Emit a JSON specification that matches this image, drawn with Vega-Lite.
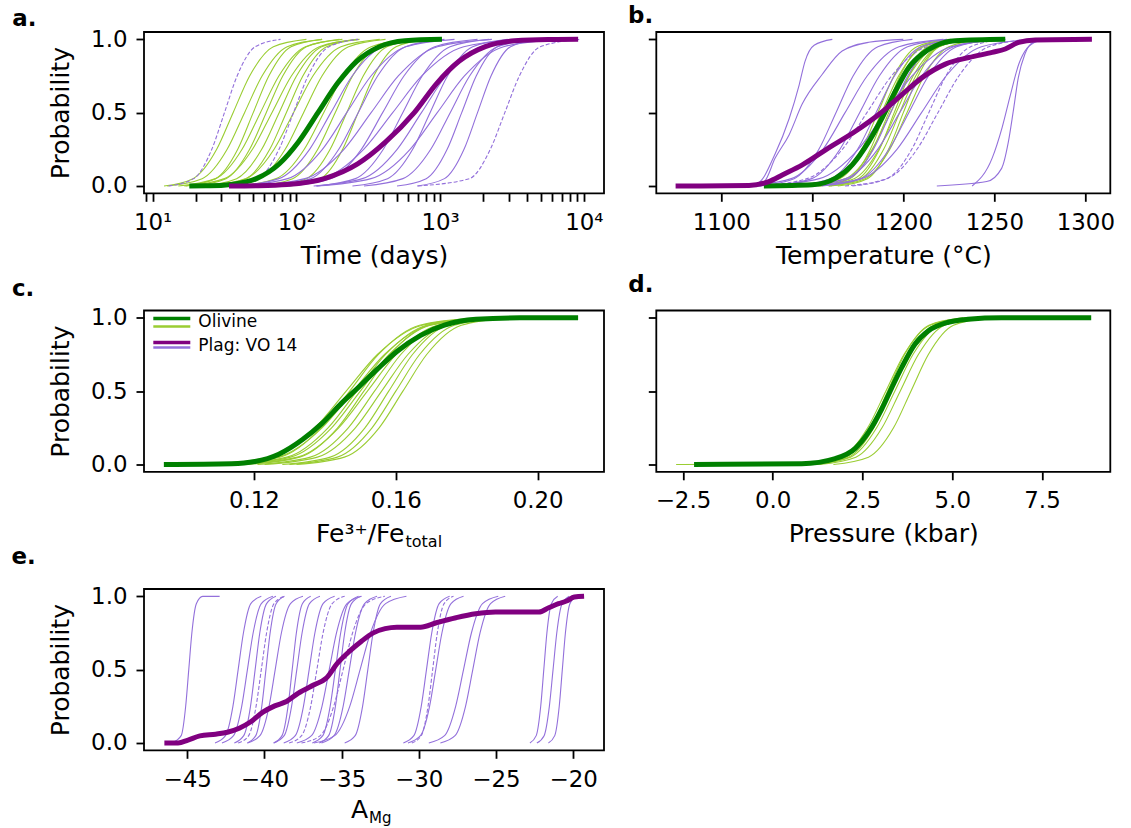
{
"$schema": "https://vega.github.io/schema/vega-lite/v6.json",
"background": "white",
"padding": {"left": 10, "top": 4, "right": 5, "bottom": 0},
"config": {
 "font": "DejaVu Sans",
 "view": {"stroke": "black", "strokeWidth": 1.8},
 "axis": {"domain": false, "grid": false, "tickColor": "black", "tickWidth": 1.8, "tickSize": 8, "labelColor": "black", "labelFontSize": 22.9, "labelPadding": 9, "titleColor": "black", "titleFontSize": 25, "titleFontWeight": "normal", "labelFlush": false, "labelOverlap": false},
 "axisX": {"labelPadding": 10},
 "title": {"fontSize": 22.9, "fontWeight": "bold", "anchor": "start", "frame": "group", "color": "black", "baseline": "alphabetic"}
},
"resolve": {"scale": {"color": "independent", "stroke": "independent"}, "legend": {"color": "independent", "stroke": "independent"}},
"datasets": {
"a_olt": [
{"curve":"g1","x":12,"p":0},{"curve":"g1","x":19.1,"p":0.05},{"curve":"g1","x":27.9,"p":0.25},{"curve":"g1","x":36.3,"p":0.5},{"curve":"g1","x":47.3,"p":0.75},{"curve":"g1","x":69.2,"p":0.95},{"curve":"g1","x":117.5,"p":1},
{"curve":"g2","x":12.6,"p":0},{"curve":"g2","x":22.1,"p":0.05},{"curve":"g2","x":33.0,"p":0.25},{"curve":"g2","x":43.6,"p":0.5},{"curve":"g2","x":57.7,"p":0.75},{"curve":"g2","x":86.3,"p":0.95},{"curve":"g2","x":151,"p":1},
{"curve":"g3","x":16.6,"p":0},{"curve":"g3","x":27.4,"p":0.05},{"curve":"g3","x":39.1,"p":0.25},{"curve":"g3","x":50.1,"p":0.5},{"curve":"g3","x":64.3,"p":0.75},{"curve":"g3","x":91.8,"p":0.95},{"curve":"g3","x":151,"p":1},
{"curve":"g4","x":15.1,"p":0},{"curve":"g4","x":27.4,"p":0.05},{"curve":"g4","x":41.9,"p":0.25},{"curve":"g4","x":56.2,"p":0.5},{"curve":"g4","x":75.5,"p":0.75},{"curve":"g4","x":115.6,"p":0.95},{"curve":"g4","x":208.9,"p":1},
{"curve":"g5","x":19.1,"p":0},{"curve":"g5","x":32.4,"p":0.05},{"curve":"g5","x":47.3,"p":0.25},{"curve":"g5","x":61.7,"p":0.5},{"curve":"g5","x":80.4,"p":0.75},{"curve":"g5","x":117.5,"p":0.95},{"curve":"g5","x":199.5,"p":1},
{"curve":"g6","x":17,"p":0},{"curve":"g6","x":31.6,"p":0.05},{"curve":"g6","x":49.5,"p":0.25},{"curve":"g6","x":67.6,"p":0.5},{"curve":"g6","x":92.3,"p":0.75},{"curve":"g6","x":144.5,"p":0.95},{"curve":"g6","x":269,"p":1},
{"curve":"g7","x":21.9,"p":0},{"curve":"g7","x":38.4,"p":0.05},{"curve":"g7","x":57.4,"p":0.25},{"curve":"g7","x":75.9,"p":0.5},{"curve":"g7","x":100.2,"p":0.75},{"curve":"g7","x":150,"p":0.95},{"curve":"g7","x":263,"p":1},
{"curve":"g8","x":26.3,"p":0},{"curve":"g8","x":44.7,"p":0.05},{"curve":"g8","x":65.3,"p":0.25},{"curve":"g8","x":85.1,"p":0.5},{"curve":"g8","x":110.9,"p":0.75},{"curve":"g8","x":162.2,"p":0.95},{"curve":"g8","x":275,"p":1},
{"curve":"g9","x":24,"p":0},{"curve":"g9","x":44.7,"p":0.05},{"curve":"g9","x":70,"p":0.25},{"curve":"g9","x":95.5,"p":0.5},{"curve":"g9","x":130.3,"p":0.75},{"curve":"g9","x":204,"p":0.95},{"curve":"g9","x":380,"p":1},
{"curve":"g10","x":30.2,"p":0},{"curve":"g10","x":54.6,"p":0.05},{"curve":"g10","x":83.6,"p":0.25},{"curve":"g10","x":112.2,"p":0.5},{"curve":"g10","x":150.7,"p":0.75},{"curve":"g10","x":230.7,"p":0.95},{"curve":"g10","x":417,"p":1},
{"curve":"g11","x":38.9,"p":0},{"curve":"g11","x":72.4,"p":0.05},{"curve":"g11","x":113.5,"p":0.25},{"curve":"g11","x":154.9,"p":0.5},{"curve":"g11","x":211.3,"p":0.75},{"curve":"g11","x":331,"p":0.95},{"curve":"g11","x":617,"p":1},
{"curve":"g12","x":53.7,"p":0},{"curve":"g12","x":94.2,"p":0.05},{"curve":"g12","x":140.9,"p":0.25},{"curve":"g12","x":186.2,"p":0.5},{"curve":"g12","x":246,"p":0.75},{"curve":"g12","x":368,"p":0.95},{"curve":"g12","x":646,"p":1},
{"curve":"g13","x":69.2,"p":0},{"curve":"g13","x":117.5,"p":0.05},{"curve":"g13","x":171.8,"p":0.25},{"curve":"g13","x":223.9,"p":0.5},{"curve":"g13","x":291.7,"p":0.75},{"curve":"g13","x":426.6,"p":0.95},{"curve":"g13","x":724,"p":1},
{"curve":"g14","x":89.1,"p":0},{"curve":"g14","x":146.9,"p":0.05},{"curve":"g14","x":209.9,"p":0.25},{"curve":"g14","x":269.2,"p":0.5},{"curve":"g14","x":345.1,"p":0.75},{"curve":"g14","x":493.3,"p":0.95},{"curve":"g14","x":812.8,"p":1}
],
"a_pls": [
{"curve":"v3","x":38,"p":0},{"curve":"v3","x":75.5,"p":0.05},{"curve":"v3","x":123.6,"p":0.25},{"curve":"v3","x":173.8,"p":0.5},{"curve":"v3","x":244.3,"p":0.75},{"curve":"v3","x":399.9,"p":0.95},{"curve":"v3","x":794.3,"p":1},
{"curve":"v4","x":39.8,"p":0},{"curve":"v4","x":86.9,"p":0.05},{"curve":"v4","x":151.7,"p":0.25},{"curve":"v4","x":223.9,"p":0.5},{"curve":"v4","x":330.4,"p":0.75},{"curve":"v4","x":576.8,"p":0.95},{"curve":"v4","x":1259,"p":1},
{"curve":"v5","x":67.6,"p":0},{"curve":"v5","x":126.2,"p":0.05},{"curve":"v5","x":197.2,"p":0.25},{"curve":"v5","x":269.2,"p":0.5},{"curve":"v5","x":367.3,"p":0.75},{"curve":"v5","x":574.1,"p":0.95},{"curve":"v5","x":1072,"p":1},
{"curve":"v6","x":47.9,"p":0},{"curve":"v6","x":114.6,"p":0.05},{"curve":"v6","x":214.3,"p":0.25},{"curve":"v6","x":331.1,"p":0.5},{"curve":"v6","x":511.7,"p":0.75},{"curve":"v6","x":957.2,"p":0.95},{"curve":"v6","x":2291,"p":1},
{"curve":"v7","x":87.1,"p":0},{"curve":"v7","x":173,"p":0.05},{"curve":"v7","x":283.1,"p":0.25},{"curve":"v7","x":398.1,"p":0.5},{"curve":"v7","x":559.8,"p":0.75},{"curve":"v7","x":916.2,"p":0.95},{"curve":"v7","x":1820,"p":1},
{"curve":"v8","x":58.9,"p":0},{"curve":"v8","x":150,"p":0.05},{"curve":"v8","x":293.8,"p":0.25},{"curve":"v8","x":467.7,"p":0.5},{"curve":"v8","x":744.7,"p":0.75},{"curve":"v8","x":1459,"p":0.95},{"curve":"v8","x":3715,"p":1},
{"curve":"v9","x":138,"p":0},{"curve":"v9","x":257.6,"p":0.05},{"curve":"v9","x":402.7,"p":0.25},{"curve":"v9","x":549.5,"p":0.5},{"curve":"v9","x":749.9,"p":0.75},{"curve":"v9","x":1172,"p":0.95},{"curve":"v9","x":2188,"p":1},
{"curve":"v10","x":131.8,"p":0},{"curve":"v10","x":287.7,"p":0.05},{"curve":"v10","x":502.3,"p":0.25},{"curve":"v10","x":741.3,"p":0.5},{"curve":"v10","x":1094,"p":0.75},{"curve":"v10","x":1910,"p":0.95},{"curve":"v10","x":4169,"p":1},
{"curve":"v11","x":245.5,"p":0},{"curve":"v11","x":430.5,"p":0.05},{"curve":"v11","x":644.2,"p":0.25},{"curve":"v11","x":851.1,"p":0.5},{"curve":"v11","x":1125,"p":0.75},{"curve":"v11","x":1683,"p":0.95},{"curve":"v11","x":2951,"p":1},
{"curve":"v12","x":138,"p":0},{"curve":"v12","x":330.4,"p":0.05},{"curve":"v12","x":618,"p":0.25},{"curve":"v12","x":955,"p":0.5},{"curve":"v12","x":1476,"p":0.75},{"curve":"v12","x":2761,"p":0.95},{"curve":"v12","x":6607,"p":1},
{"curve":"v13","x":295.1,"p":0},{"curve":"v13","x":550.8,"p":0.05},{"curve":"v13","x":861,"p":0.25},{"curve":"v13","x":1175,"p":0.5},{"curve":"v13","x":1603,"p":0.75},{"curve":"v13","x":2506,"p":0.95},{"curve":"v13","x":4677,"p":1},
{"curve":"v14","x":501.2,"p":0},{"curve":"v14","x":800,"p":0.05},{"curve":"v14","x":1119,"p":0.25},{"curve":"v14","x":1413,"p":0.5},{"curve":"v14","x":1782,"p":0.75},{"curve":"v14","x":2495,"p":0.95},{"curve":"v14","x":3981,"p":1},
{"curve":"v15","x":691.8,"p":0},{"curve":"v15","x":1072,"p":0.05},{"curve":"v15","x":1466,"p":0.25},{"curve":"v15","x":1820,"p":0.5},{"curve":"v15","x":2259,"p":0.75},{"curve":"v15","x":3090,"p":0.95},{"curve":"v15","x":4786,"p":1}
],
"a_pld": [
{"curve":"d1","x":12.9,"p":0},{"curve":"d1","x":19.3,"p":0.05},{"curve":"d1","x":25.8,"p":0.25},{"curve":"d1","x":31.6,"p":0.5},{"curve":"d1","x":38.7,"p":0.75},{"curve":"d1","x":51.8,"p":0.95},{"curve":"d1","x":77.6,"p":1},
{"curve":"d2","x":33.9,"p":0},{"curve":"d2","x":54.1,"p":0.05},{"curve":"d2","x":75.7,"p":0.25},{"curve":"d2","x":95.5,"p":0.5},{"curve":"d2","x":120.5,"p":0.75},{"curve":"d2","x":168.7,"p":0.95},{"curve":"d2","x":269.2,"p":1},
{"curve":"d16","x":700,"p":0},{"curve":"d16","x":1596,"p":0.05},{"curve":"d16","x":2234,"p":0.25},{"curve":"d16","x":2818,"p":0.5},{"curve":"d16","x":3556,"p":0.75},{"curve":"d16","x":4977,"p":0.95},{"curve":"d16","x":9500,"p":1}
],
"a_ol": [
{"curve":"G","x":18,"p":0},{"curve":"G","x":25,"p":0.001},{"curve":"G","x":35,"p":0.01},{"curve":"G","x":52.7,"p":0.05},{"curve":"G","x":75.9,"p":0.15},{"curve":"G","x":103.3,"p":0.3},{"curve":"G","x":141.3,"p":0.5},{"curve":"G","x":193.2,"p":0.7},{"curve":"G","x":262.4,"p":0.85},{"curve":"G","x":378.4,"p":0.95},{"curve":"G","x":570,"p":0.99},{"curve":"G","x":1030,"p":1}
],
"a_pl": [
{"curve":"P","x":34,"p":0},{"curve":"P","x":53.2,"p":0.002},{"curve":"P","x":86.3,"p":0.01},{"curve":"P","x":156.7,"p":0.05},{"curve":"P","x":266.7,"p":0.15},{"curve":"P","x":417.8,"p":0.3},{"curve":"P","x":660.7,"p":0.5},{"curve":"P","x":948.4,"p":0.7},{"curve":"P","x":1352,"p":0.85},{"curve":"P","x":2061,"p":0.95},{"curve":"P","x":3296,"p":0.99},{"curve":"P","x":5623,"p":0.999},{"curve":"P","x":9120,"p":1}
],
"b_olt": [
{"curve":"g1","x":1147,"p":0},{"curve":"g1","x":1164.6,"p":0.05},{"curve":"g1","x":1177.2,"p":0.25},{"curve":"g1","x":1186,"p":0.5},{"curve":"g1","x":1194.8,"p":0.75},{"curve":"g1","x":1207.4,"p":0.95},{"curve":"g1","x":1225,"p":1},
{"curve":"g2","x":1146,"p":0},{"curve":"g2","x":1165,"p":0.05},{"curve":"g2","x":1178.6,"p":0.25},{"curve":"g2","x":1188,"p":0.5},{"curve":"g2","x":1197.4,"p":0.75},{"curve":"g2","x":1211,"p":0.95},{"curve":"g2","x":1230,"p":1},
{"curve":"g3","x":1154,"p":0},{"curve":"g3","x":1170.3,"p":0.05},{"curve":"g3","x":1181.9,"p":0.25},{"curve":"g3","x":1190,"p":0.5},{"curve":"g3","x":1198.1,"p":0.75},{"curve":"g3","x":1209.7,"p":0.95},{"curve":"g3","x":1226,"p":1},
{"curve":"g4","x":1153,"p":0},{"curve":"g4","x":1170.6,"p":0.05},{"curve":"g4","x":1183.2,"p":0.25},{"curve":"g4","x":1192,"p":0.5},{"curve":"g4","x":1200.8,"p":0.75},{"curve":"g4","x":1213.4,"p":0.95},{"curve":"g4","x":1231,"p":1},
{"curve":"g5","x":1148,"p":0},{"curve":"g5","x":1168.3,"p":0.05},{"curve":"g5","x":1182.9,"p":0.25},{"curve":"g5","x":1193,"p":0.5},{"curve":"g5","x":1203.1,"p":0.75},{"curve":"g5","x":1217.7,"p":0.95},{"curve":"g5","x":1238,"p":1},
{"curve":"g6","x":1159,"p":0},{"curve":"g6","x":1175.3,"p":0.05},{"curve":"g6","x":1186.9,"p":0.25},{"curve":"g6","x":1195,"p":0.5},{"curve":"g6","x":1203.1,"p":0.75},{"curve":"g6","x":1214.7,"p":0.95},{"curve":"g6","x":1231,"p":1},
{"curve":"g7","x":1154,"p":0},{"curve":"g7","x":1173,"p":0.05},{"curve":"g7","x":1186.6,"p":0.25},{"curve":"g7","x":1196,"p":0.5},{"curve":"g7","x":1205.4,"p":0.75},{"curve":"g7","x":1219,"p":0.95},{"curve":"g7","x":1238,"p":1},
{"curve":"g8","x":1159,"p":0},{"curve":"g8","x":1176.6,"p":0.05},{"curve":"g8","x":1189.2,"p":0.25},{"curve":"g8","x":1198,"p":0.5},{"curve":"g8","x":1206.8,"p":0.75},{"curve":"g8","x":1219.4,"p":0.95},{"curve":"g8","x":1237,"p":1},
{"curve":"g9","x":1164,"p":0},{"curve":"g9","x":1180.3,"p":0.05},{"curve":"g9","x":1191.9,"p":0.25},{"curve":"g9","x":1200,"p":0.5},{"curve":"g9","x":1208.1,"p":0.75},{"curve":"g9","x":1219.7,"p":0.95},{"curve":"g9","x":1236,"p":1},
{"curve":"g10","x":1160,"p":0},{"curve":"g10","x":1179,"p":0.05},{"curve":"g10","x":1192.6,"p":0.25},{"curve":"g10","x":1202,"p":0.5},{"curve":"g10","x":1211.4,"p":0.75},{"curve":"g10","x":1225,"p":0.95},{"curve":"g10","x":1244,"p":1}
],
"b_pls": [
{"curve":"v1","x":1108,"p":0},{"curve":"v1","x":1120,"p":0.02},{"curve":"v1","x":1129.6,"p":0.22},{"curve":"v1","x":1137.3,"p":0.46},{"curve":"v1","x":1142.8,"p":0.69},{"curve":"v1","x":1146,"p":0.85},{"curve":"v1","x":1151,"p":0.96},{"curve":"v1","x":1161,"p":1},
{"curve":"v2","x":1116,"p":0},{"curve":"v2","x":1123.6,"p":0.03},{"curve":"v2","x":1129.6,"p":0.19},{"curve":"v2","x":1137.3,"p":0.35},{"curve":"v2","x":1144.5,"p":0.56},{"curve":"v2","x":1155.4,"p":0.76},{"curve":"v2","x":1166.4,"p":0.92},{"curve":"v2","x":1181,"p":0.98},{"curve":"v2","x":1200,"p":1},
{"curve":"v3","x":1121,"p":0},{"curve":"v3","x":1140,"p":0.05},{"curve":"v3","x":1153.6,"p":0.25},{"curve":"v3","x":1163,"p":0.5},{"curve":"v3","x":1172.4,"p":0.75},{"curve":"v3","x":1186,"p":0.95},{"curve":"v3","x":1205,"p":1},
{"curve":"v4","x":1114,"p":0},{"curve":"v4","x":1138.4,"p":0.05},{"curve":"v4","x":1155.9,"p":0.25},{"curve":"v4","x":1168,"p":0.5},{"curve":"v4","x":1180.1,"p":0.75},{"curve":"v4","x":1197.6,"p":0.95},{"curve":"v4","x":1222,"p":1},
{"curve":"v5","x":1128,"p":0},{"curve":"v5","x":1149.7,"p":0.05},{"curve":"v5","x":1165.2,"p":0.25},{"curve":"v5","x":1176,"p":0.5},{"curve":"v5","x":1186.8,"p":0.75},{"curve":"v5","x":1202.3,"p":0.95},{"curve":"v5","x":1224,"p":1},
{"curve":"v7","x":1140,"p":0},{"curve":"v7","x":1160.3,"p":0.05},{"curve":"v7","x":1174.9,"p":0.25},{"curve":"v7","x":1185,"p":0.5},{"curve":"v7","x":1195.1,"p":0.75},{"curve":"v7","x":1209.7,"p":0.95},{"curve":"v7","x":1230,"p":1},
{"curve":"v8","x":1124,"p":0},{"curve":"v8","x":1153.8,"p":0.05},{"curve":"v8","x":1175.2,"p":0.25},{"curve":"v8","x":1190,"p":0.5},{"curve":"v8","x":1204.8,"p":0.75},{"curve":"v8","x":1226.2,"p":0.95},{"curve":"v8","x":1256,"p":1},
{"curve":"v9","x":1151,"p":0},{"curve":"v9","x":1170,"p":0.05},{"curve":"v9","x":1183.6,"p":0.25},{"curve":"v9","x":1193,"p":0.5},{"curve":"v9","x":1202.4,"p":0.75},{"curve":"v9","x":1216,"p":0.95},{"curve":"v9","x":1235,"p":1},
{"curve":"v10","x":1144,"p":0},{"curve":"v10","x":1168.4,"p":0.05},{"curve":"v10","x":1185.9,"p":0.25},{"curve":"v10","x":1198,"p":0.5},{"curve":"v10","x":1210.1,"p":0.75},{"curve":"v10","x":1227.6,"p":0.95},{"curve":"v10","x":1252,"p":1},
{"curve":"v11","x":1155,"p":0},{"curve":"v11","x":1176.7,"p":0.05},{"curve":"v11","x":1192.2,"p":0.25},{"curve":"v11","x":1203,"p":0.5},{"curve":"v11","x":1213.8,"p":0.75},{"curve":"v11","x":1229.3,"p":0.95},{"curve":"v11","x":1251,"p":1},
{"curve":"v12","x":1150,"p":0},{"curve":"v12","x":1177.1,"p":0.05},{"curve":"v12","x":1196.5,"p":0.25},{"curve":"v12","x":1210,"p":0.5},{"curve":"v12","x":1223.5,"p":0.75},{"curve":"v12","x":1242.9,"p":0.95},{"curve":"v12","x":1270,"p":1},
{"curve":"v15","x":1218.4,"p":0},{"curve":"v15","x":1245.8,"p":0.03},{"curve":"v15","x":1254,"p":0.12},{"curve":"v15","x":1257.7,"p":0.3},{"curve":"v15","x":1260.4,"p":0.51},{"curve":"v15","x":1263.2,"p":0.74},{"curve":"v15","x":1266.8,"p":0.9},{"curve":"v15","x":1271.4,"p":0.98},{"curve":"v15","x":1278.7,"p":1},
{"curve":"v16","x":1237.8,"p":0},{"curve":"v16","x":1248.8,"p":0.19},{"curve":"v16","x":1254.3,"p":0.4},{"curve":"v16","x":1258.8,"p":0.62},{"curve":"v16","x":1263.4,"p":0.83},{"curve":"v16","x":1268,"p":0.94},{"curve":"v16","x":1274.4,"p":0.99},{"curve":"v16","x":1278,"p":1}
],
"b_pld": [
{"curve":"d6","x":1120,"p":0},{"curve":"d6","x":1147.1,"p":0.05},{"curve":"d6","x":1166.5,"p":0.25},{"curve":"d6","x":1180,"p":0.5},{"curve":"d6","x":1193.5,"p":0.75},{"curve":"d6","x":1212.9,"p":0.95},{"curve":"d6","x":1240,"p":1},
{"curve":"d13","x":1172,"p":0},{"curve":"d13","x":1191,"p":0.05},{"curve":"d13","x":1204.6,"p":0.25},{"curve":"d13","x":1214,"p":0.5},{"curve":"d13","x":1223.4,"p":0.75},{"curve":"d13","x":1237,"p":0.95},{"curve":"d13","x":1256,"p":1},
{"curve":"d14","x":1168,"p":0},{"curve":"d14","x":1191,"p":0.05},{"curve":"d14","x":1207.5,"p":0.25},{"curve":"d14","x":1219,"p":0.5},{"curve":"d14","x":1230.5,"p":0.75},{"curve":"d14","x":1247,"p":0.95},{"curve":"d14","x":1270,"p":1}
],
"b_ol": [
{"curve":"G","x":1123.4,"p":0},{"curve":"G","x":1150,"p":0.008},{"curve":"G","x":1162.8,"p":0.053},{"curve":"G","x":1171.9,"p":0.144},{"curve":"G","x":1181.1,"p":0.304},{"curve":"G","x":1188.4,"p":0.465},{"curve":"G","x":1195.7,"p":0.648},{"curve":"G","x":1203,"p":0.808},{"curve":"G","x":1210.3,"p":0.9},{"curve":"G","x":1217.7,"p":0.957},{"curve":"G","x":1228.6,"p":0.991},{"curve":"G","x":1256,"p":1}
],
"b_pl": [
{"curve":"P","x":1074.9,"p":0},{"curve":"P","x":1115.2,"p":0.003},{"curve":"P","x":1126.2,"p":0.03},{"curve":"P","x":1133.5,"p":0.075},{"curve":"P","x":1144.5,"p":0.144},{"curve":"P","x":1159,"p":0.26},{"curve":"P","x":1173.7,"p":0.373},{"curve":"P","x":1186.5,"p":0.487},{"curve":"P","x":1199.4,"p":0.625},{"curve":"P","x":1210.3,"p":0.739},{"curve":"P","x":1223.1,"p":0.831},{"curve":"P","x":1236,"p":0.876},{"curve":"P","x":1248.8,"p":0.911},{"curve":"P","x":1256,"p":0.934},{"curve":"P","x":1263.4,"p":0.979},{"curve":"P","x":1272.5,"p":0.995},{"curve":"P","x":1303.6,"p":1}
],
"c_olt": [
{"curve":"g1","x":0.107,"p":0},{"curve":"g1","x":0.1246,"p":0.05},{"curve":"g1","x":0.1372,"p":0.25},{"curve":"g1","x":0.146,"p":0.5},{"curve":"g1","x":0.1548,"p":0.75},{"curve":"g1","x":0.1674,"p":0.95},{"curve":"g1","x":0.185,"p":1},
{"curve":"g2","x":0.111,"p":0},{"curve":"g2","x":0.1273,"p":0.05},{"curve":"g2","x":0.1389,"p":0.25},{"curve":"g2","x":0.147,"p":0.5},{"curve":"g2","x":0.1551,"p":0.75},{"curve":"g2","x":0.1667,"p":0.95},{"curve":"g2","x":0.183,"p":1},
{"curve":"g3","x":0.109,"p":0},{"curve":"g3","x":0.1266,"p":0.05},{"curve":"g3","x":0.1392,"p":0.25},{"curve":"g3","x":0.148,"p":0.5},{"curve":"g3","x":0.1568,"p":0.75},{"curve":"g3","x":0.1694,"p":0.95},{"curve":"g3","x":0.187,"p":1},
{"curve":"g4","x":0.113,"p":0},{"curve":"g4","x":0.1293,"p":0.05},{"curve":"g4","x":0.1409,"p":0.25},{"curve":"g4","x":0.149,"p":0.5},{"curve":"g4","x":0.1571,"p":0.75},{"curve":"g4","x":0.1687,"p":0.95},{"curve":"g4","x":0.185,"p":1},
{"curve":"g5","x":0.114,"p":0},{"curve":"g5","x":0.1303,"p":0.05},{"curve":"g5","x":0.1419,"p":0.25},{"curve":"g5","x":0.15,"p":0.5},{"curve":"g5","x":0.1581,"p":0.75},{"curve":"g5","x":0.1697,"p":0.95},{"curve":"g5","x":0.186,"p":1},
{"curve":"g6","x":0.118,"p":0},{"curve":"g6","x":0.1329,"p":0.05},{"curve":"g6","x":0.1436,"p":0.25},{"curve":"g6","x":0.151,"p":0.5},{"curve":"g6","x":0.1584,"p":0.75},{"curve":"g6","x":0.1691,"p":0.95},{"curve":"g6","x":0.184,"p":1},
{"curve":"g7","x":0.116,"p":0},{"curve":"g7","x":0.1323,"p":0.05},{"curve":"g7","x":0.1439,"p":0.25},{"curve":"g7","x":0.152,"p":0.5},{"curve":"g7","x":0.1601,"p":0.75},{"curve":"g7","x":0.1717,"p":0.95},{"curve":"g7","x":0.188,"p":1},
{"curve":"g8","x":0.121,"p":0},{"curve":"g8","x":0.1359,"p":0.05},{"curve":"g8","x":0.1466,"p":0.25},{"curve":"g8","x":0.154,"p":0.5},{"curve":"g8","x":0.1614,"p":0.75},{"curve":"g8","x":0.1721,"p":0.95},{"curve":"g8","x":0.187,"p":1},
{"curve":"g9","x":0.123,"p":0},{"curve":"g9","x":0.1379,"p":0.05},{"curve":"g9","x":0.1486,"p":0.25},{"curve":"g9","x":0.156,"p":0.5},{"curve":"g9","x":0.1634,"p":0.75},{"curve":"g9","x":0.1741,"p":0.95},{"curve":"g9","x":0.189,"p":1},
{"curve":"g10","x":0.128,"p":0},{"curve":"g10","x":0.1415,"p":0.05},{"curve":"g10","x":0.1513,"p":0.25},{"curve":"g10","x":0.158,"p":0.5},{"curve":"g10","x":0.1647,"p":0.75},{"curve":"g10","x":0.1745,"p":0.95},{"curve":"g10","x":0.188,"p":1},
{"curve":"g11","x":0.13,"p":0},{"curve":"g11","x":0.1435,"p":0.05},{"curve":"g11","x":0.1533,"p":0.25},{"curve":"g11","x":0.16,"p":0.5},{"curve":"g11","x":0.1667,"p":0.75},{"curve":"g11","x":0.1765,"p":0.95},{"curve":"g11","x":0.19,"p":1},
{"curve":"g12","x":0.132,"p":0},{"curve":"g12","x":0.1455,"p":0.05},{"curve":"g12","x":0.1553,"p":0.25},{"curve":"g12","x":0.162,"p":0.5},{"curve":"g12","x":0.1687,"p":0.75},{"curve":"g12","x":0.1785,"p":0.95},{"curve":"g12","x":0.192,"p":1}
],
"c_ol": [
{"curve":"G","x":0.0946,"p":0},{"curve":"G","x":0.1137,"p":0.005},{"curve":"G","x":0.1203,"p":0.02},{"curve":"G","x":0.127,"p":0.07},{"curve":"G","x":0.1337,"p":0.17},{"curve":"G","x":0.1392,"p":0.28},{"curve":"G","x":0.1448,"p":0.42},{"curve":"G","x":0.1492,"p":0.52},{"curve":"G","x":0.1548,"p":0.65},{"curve":"G","x":0.1603,"p":0.77},{"curve":"G","x":0.167,"p":0.88},{"curve":"G","x":0.1737,"p":0.95},{"curve":"G","x":0.1826,"p":0.99},{"curve":"G","x":0.195,"p":1},{"curve":"G","x":0.2114,"p":1}
],
"d_olt": [
{"curve":"g1","x":-2.69,"p":0},{"curve":"g1","x":0.9,"p":0.002},{"curve":"g1","x":1.916,"p":0.05},{"curve":"g1","x":2.644,"p":0.25},{"curve":"g1","x":3.15,"p":0.5},{"curve":"g1","x":3.656,"p":0.75},{"curve":"g1","x":4.384,"p":0.95},{"curve":"g1","x":5.4,"p":1},
{"curve":"g2","x":1.1,"p":0},{"curve":"g2","x":2.048,"p":0.05},{"curve":"g2","x":2.728,"p":0.25},{"curve":"g2","x":3.2,"p":0.5},{"curve":"g2","x":3.672,"p":0.75},{"curve":"g2","x":4.352,"p":0.95},{"curve":"g2","x":5.3,"p":1},
{"curve":"g3","x":0.85,"p":0},{"curve":"g3","x":1.934,"p":0.05},{"curve":"g3","x":2.711,"p":0.25},{"curve":"g3","x":3.25,"p":0.5},{"curve":"g3","x":3.789,"p":0.75},{"curve":"g3","x":4.566,"p":0.95},{"curve":"g3","x":5.65,"p":1},
{"curve":"g4","x":1.14,"p":0},{"curve":"g4","x":2.116,"p":0.05},{"curve":"g4","x":2.815,"p":0.25},{"curve":"g4","x":3.3,"p":0.5},{"curve":"g4","x":3.785,"p":0.75},{"curve":"g4","x":4.484,"p":0.95},{"curve":"g4","x":5.46,"p":1},
{"curve":"g5","x":1.15,"p":0},{"curve":"g5","x":2.166,"p":0.05},{"curve":"g5","x":2.894,"p":0.25},{"curve":"g5","x":3.4,"p":0.5},{"curve":"g5","x":3.906,"p":0.75},{"curve":"g5","x":4.634,"p":0.95},{"curve":"g5","x":5.65,"p":1},
{"curve":"g6","x":1.3,"p":0},{"curve":"g6","x":2.316,"p":0.05},{"curve":"g6","x":3.044,"p":0.25},{"curve":"g6","x":3.55,"p":0.5},{"curve":"g6","x":4.056,"p":0.75},{"curve":"g6","x":4.784,"p":0.95},{"curve":"g6","x":5.8,"p":1},
{"curve":"g7","x":1.69,"p":0},{"curve":"g7","x":2.666,"p":0.05},{"curve":"g7","x":3.365,"p":0.25},{"curve":"g7","x":3.85,"p":0.5},{"curve":"g7","x":4.335,"p":0.75},{"curve":"g7","x":5.034,"p":0.95},{"curve":"g7","x":6.01,"p":1}
],
"d_ol": [
{"curve":"G","x":-2.19,"p":0},{"curve":"G","x":0.81,"p":0.005},{"curve":"G","x":1.74,"p":0.04},{"curve":"G","x":2.3,"p":0.11},{"curve":"G","x":2.67,"p":0.22},{"curve":"G","x":3.04,"p":0.38},{"curve":"G","x":3.31,"p":0.52},{"curve":"G","x":3.59,"p":0.66},{"curve":"G","x":3.96,"p":0.82},{"curve":"G","x":4.33,"p":0.91},{"curve":"G","x":4.89,"p":0.97},{"curve":"G","x":5.44,"p":0.99},{"curve":"G","x":6.37,"p":1},{"curve":"G","x":8.87,"p":1}
],
"e_pls": [
{"curve":"v1","x":-46.0,"p":0},{"curve":"v1","x":-45.39,"p":0.05},{"curve":"v1","x":-45.1,"p":0.25},{"curve":"v1","x":-44.9,"p":0.5},{"curve":"v1","x":-44.7,"p":0.75},{"curve":"v1","x":-44.41,"p":0.95},{"curve":"v1","x":-44.0,"p":1},{"curve":"v1","x":-42.9,"p":1},
{"curve":"v2","x":-43.2,"p":0},{"curve":"v2","x":-42.52,"p":0.05},{"curve":"v2","x":-42.04,"p":0.25},{"curve":"v2","x":-41.7,"p":0.5},{"curve":"v2","x":-41.36,"p":0.75},{"curve":"v2","x":-40.88,"p":0.95},{"curve":"v2","x":-40.2,"p":1},
{"curve":"v3","x":-42.75,"p":0},{"curve":"v3","x":-42.0,"p":0.05},{"curve":"v3","x":-41.47,"p":0.25},{"curve":"v3","x":-41.1,"p":0.5},{"curve":"v3","x":-40.73,"p":0.75},{"curve":"v3","x":-40.2,"p":0.95},{"curve":"v3","x":-39.45,"p":1},
{"curve":"v4","x":-41.95,"p":0},{"curve":"v4","x":-41.34,"p":0.05},{"curve":"v4","x":-40.9,"p":0.25},{"curve":"v4","x":-40.6,"p":0.5},{"curve":"v4","x":-40.3,"p":0.75},{"curve":"v4","x":-39.86,"p":0.95},{"curve":"v4","x":-39.25,"p":1},
{"curve":"v6","x":-41.1,"p":0},{"curve":"v6","x":-40.56,"p":0.05},{"curve":"v6","x":-40.17,"p":0.25},{"curve":"v6","x":-39.9,"p":0.5},{"curve":"v6","x":-39.63,"p":0.75},{"curve":"v6","x":-39.24,"p":0.95},{"curve":"v6","x":-38.7,"p":1},
{"curve":"v7","x":-41.1,"p":0},{"curve":"v7","x":-40.29,"p":0.05},{"curve":"v7","x":-39.7,"p":0.25},{"curve":"v7","x":-39.3,"p":0.5},{"curve":"v7","x":-38.9,"p":0.75},{"curve":"v7","x":-38.31,"p":0.95},{"curve":"v7","x":-37.5,"p":1},
{"curve":"v8","x":-39.4,"p":0},{"curve":"v8","x":-38.86,"p":0.05},{"curve":"v8","x":-38.47,"p":0.25},{"curve":"v8","x":-38.2,"p":0.5},{"curve":"v8","x":-37.93,"p":0.75},{"curve":"v8","x":-37.54,"p":0.95},{"curve":"v8","x":-37.0,"p":1},
{"curve":"v9","x":-39.4,"p":0},{"curve":"v9","x":-38.72,"p":0.05},{"curve":"v9","x":-38.24,"p":0.25},{"curve":"v9","x":-37.9,"p":0.5},{"curve":"v9","x":-37.56,"p":0.75},{"curve":"v9","x":-37.08,"p":0.95},{"curve":"v9","x":-36.4,"p":1},
{"curve":"v10","x":-38.75,"p":0},{"curve":"v10","x":-38.0,"p":0.05},{"curve":"v10","x":-37.47,"p":0.25},{"curve":"v10","x":-37.1,"p":0.5},{"curve":"v10","x":-36.73,"p":0.75},{"curve":"v10","x":-36.2,"p":0.95},{"curve":"v10","x":-35.45,"p":1},
{"curve":"v12","x":-37.9,"p":0},{"curve":"v12","x":-36.95,"p":0.05},{"curve":"v12","x":-36.27,"p":0.25},{"curve":"v12","x":-35.8,"p":0.5},{"curve":"v12","x":-35.33,"p":0.75},{"curve":"v12","x":-34.65,"p":0.95},{"curve":"v12","x":-33.7,"p":1},
{"curve":"v13","x":-36.9,"p":0},{"curve":"v13","x":-36.22,"p":0.05},{"curve":"v13","x":-35.74,"p":0.25},{"curve":"v13","x":-35.4,"p":0.5},{"curve":"v13","x":-35.06,"p":0.75},{"curve":"v13","x":-34.58,"p":0.95},{"curve":"v13","x":-33.9,"p":1},
{"curve":"v14","x":-36.45,"p":0},{"curve":"v14","x":-35.84,"p":0.05},{"curve":"v14","x":-35.4,"p":0.25},{"curve":"v14","x":-35.1,"p":0.5},{"curve":"v14","x":-34.8,"p":0.75},{"curve":"v14","x":-34.36,"p":0.95},{"curve":"v14","x":-33.75,"p":1},
{"curve":"v16","x":-36.3,"p":0},{"curve":"v16","x":-35.49,"p":0.05},{"curve":"v16","x":-34.9,"p":0.25},{"curve":"v16","x":-34.5,"p":0.5},{"curve":"v16","x":-34.1,"p":0.75},{"curve":"v16","x":-33.51,"p":0.95},{"curve":"v16","x":-32.7,"p":1},
{"curve":"v17","x":-36.8,"p":0},{"curve":"v17","x":-35.45,"p":0.05},{"curve":"v17","x":-34.47,"p":0.25},{"curve":"v17","x":-33.8,"p":0.5},{"curve":"v17","x":-33.13,"p":0.75},{"curve":"v17","x":-32.15,"p":0.95},{"curve":"v17","x":-30.8,"p":1},
{"curve":"v18","x":-34.8,"p":0},{"curve":"v18","x":-34.12,"p":0.05},{"curve":"v18","x":-33.64,"p":0.25},{"curve":"v18","x":-33.3,"p":0.5},{"curve":"v18","x":-32.96,"p":0.75},{"curve":"v18","x":-32.48,"p":0.95},{"curve":"v18","x":-31.8,"p":1},
{"curve":"v19","x":-31.0,"p":0},{"curve":"v19","x":-30.32,"p":0.05},{"curve":"v19","x":-29.84,"p":0.25},{"curve":"v19","x":-29.5,"p":0.5},{"curve":"v19","x":-29.16,"p":0.75},{"curve":"v19","x":-28.68,"p":0.95},{"curve":"v19","x":-28.0,"p":1},
{"curve":"v21","x":-30.7,"p":0},{"curve":"v21","x":-29.89,"p":0.05},{"curve":"v21","x":-29.3,"p":0.25},{"curve":"v21","x":-28.9,"p":0.5},{"curve":"v21","x":-28.5,"p":0.75},{"curve":"v21","x":-27.91,"p":0.95},{"curve":"v21","x":-27.1,"p":1},
{"curve":"v22","x":-29.35,"p":0},{"curve":"v22","x":-28.33,"p":0.05},{"curve":"v22","x":-27.61,"p":0.25},{"curve":"v22","x":-27.1,"p":0.5},{"curve":"v22","x":-26.59,"p":0.75},{"curve":"v22","x":-25.87,"p":0.95},{"curve":"v22","x":-24.85,"p":1},
{"curve":"v23","x":-28.6,"p":0},{"curve":"v23","x":-27.65,"p":0.05},{"curve":"v23","x":-26.97,"p":0.25},{"curve":"v23","x":-26.5,"p":0.5},{"curve":"v23","x":-26.03,"p":0.75},{"curve":"v23","x":-25.35,"p":0.95},{"curve":"v23","x":-24.4,"p":1},
{"curve":"v24","x":-22.8,"p":0},{"curve":"v24","x":-22.39,"p":0.05},{"curve":"v24","x":-22.1,"p":0.25},{"curve":"v24","x":-21.9,"p":0.5},{"curve":"v24","x":-21.7,"p":0.75},{"curve":"v24","x":-21.41,"p":0.95},{"curve":"v24","x":-21.0,"p":1},
{"curve":"v25","x":-22.35,"p":0},{"curve":"v25","x":-21.88,"p":0.05},{"curve":"v25","x":-21.54,"p":0.25},{"curve":"v25","x":-21.3,"p":0.5},{"curve":"v25","x":-21.06,"p":0.75},{"curve":"v25","x":-20.72,"p":0.95},{"curve":"v25","x":-20.25,"p":1},
{"curve":"v26","x":-21.6,"p":0},{"curve":"v26","x":-21.19,"p":0.05},{"curve":"v26","x":-20.9,"p":0.25},{"curve":"v26","x":-20.7,"p":0.5},{"curve":"v26","x":-20.5,"p":0.75},{"curve":"v26","x":-20.21,"p":0.95},{"curve":"v26","x":-19.8,"p":1}
],
"e_pld": [
{"curve":"d5","x":-41.7,"p":0},{"curve":"d5","x":-41.02,"p":0.05},{"curve":"d5","x":-40.54,"p":0.25},{"curve":"d5","x":-40.2,"p":0.5},{"curve":"d5","x":-39.86,"p":0.75},{"curve":"d5","x":-39.38,"p":0.95},{"curve":"d5","x":-38.7,"p":1},
{"curve":"d11","x":-38.4,"p":0},{"curve":"d11","x":-37.59,"p":0.05},{"curve":"d11","x":-37.0,"p":0.25},{"curve":"d11","x":-36.6,"p":0.5},{"curve":"d11","x":-36.2,"p":0.75},{"curve":"d11","x":-35.61,"p":0.95},{"curve":"d11","x":-34.8,"p":1},
{"curve":"d15","x":-37.6,"p":0},{"curve":"d15","x":-36.38,"p":0.05},{"curve":"d15","x":-35.51,"p":0.25},{"curve":"d15","x":-34.9,"p":0.5},{"curve":"d15","x":-34.29,"p":0.75},{"curve":"d15","x":-33.42,"p":0.95},{"curve":"d15","x":-32.2,"p":1},
{"curve":"d20","x":-30.45,"p":0},{"curve":"d20","x":-29.84,"p":0.05},{"curve":"d20","x":-29.4,"p":0.25},{"curve":"d20","x":-29.1,"p":0.5},{"curve":"d20","x":-28.8,"p":0.75},{"curve":"d20","x":-28.36,"p":0.95},{"curve":"d20","x":-27.75,"p":1}
],
"e_pl": [
{"curve":"P","x":-46.48,"p":0},{"curve":"P","x":-45.59,"p":0},{"curve":"P","x":-44.95,"p":0.02},{"curve":"P","x":-44.18,"p":0.048},{"curve":"P","x":-43.16,"p":0.06},{"curve":"P","x":-42.4,"p":0.073},{"curve":"P","x":-41.63,"p":0.1},{"curve":"P","x":-40.86,"p":0.146},{"curve":"P","x":-40.1,"p":0.21},{"curve":"P","x":-39.33,"p":0.253},{"curve":"P","x":-38.57,"p":0.283},{"curve":"P","x":-37.8,"p":0.34},{"curve":"P","x":-36.78,"p":0.397},{"curve":"P","x":-36.01,"p":0.44},{"curve":"P","x":-35.25,"p":0.546},{"curve":"P","x":-34.48,"p":0.626},{"curve":"P","x":-33.71,"p":0.694},{"curve":"P","x":-32.95,"p":0.751},{"curve":"P","x":-32.18,"p":0.78},{"curve":"P","x":-31.42,"p":0.79},{"curve":"P","x":-29.88,"p":0.79},{"curve":"P","x":-28.86,"p":0.82},{"curve":"P","x":-27.59,"p":0.854},{"curve":"P","x":-26.31,"p":0.881},{"curve":"P","x":-25.03,"p":0.893},{"curve":"P","x":-22.22,"p":0.893},{"curve":"P","x":-21.58,"p":0.922},{"curve":"P","x":-20.95,"p":0.95},{"curve":"P","x":-20.43,"p":0.968},{"curve":"P","x":-19.92,"p":0.995},{"curve":"P","x":-19.29,"p":1}
]
},
"columns": 2,
"spacing": {"row": 116.5, "column": 52.3},
"bounds": "flush",
"concat": [
{
 "width": 460, "height": 161.3,
 "title": {"text": "a.", "dx": -131.7, "offset": -2.5},
 "encoding": {
  "x": {"field": "x", "type": "quantitative", "scale": {"type": "log", "domain": [8.71, 13800], "nice": false},
   "axis": {"title": "Time (days)", "titleX": 230, "titleY": 70, "titleAlign": "center", "titleBaseline": "alphabetic",
    "values": [9,10,20,30,40,50,60,70,80,90,100,200,300,400,500,600,700,800,900,1000,2000,3000,4000,5000,6000,7000,8000,9000,10000],
    "labelExpr": "datum.value == 10 ? '10¹' : datum.value == 100 ? '10²' : datum.value == 1000 ? '10³' : datum.value == 10000 ? '10⁴' : ''",
    "encode": {"ticks": {"update": {"y2": {"signal": "indexof([10,100,1000,10000], datum.value) < 0 ? 4.6 : 8"}, "strokeWidth": {"signal": "indexof([10,100,1000,10000], datum.value) < 0 ? 1.4 : 1.8"}}}}}},
  "y": {"field": "p", "type": "quantitative", "scale": {"domain": [-0.05, 1.05], "nice": false, "zero": false},
   "axis": {"values": [0, 0.5, 1], "format": ".1f", "title": "Probability", "titleX": -75.1, "titleY": 80.65, "titleAlign": "center", "titleBaseline": "alphabetic", "titleAngle": -90}},
  "detail": {"field": "curve"}
 },
 "layer": [
  {"data": {"name": "a_olt"}, "mark": {"type": "line", "color": "#9acd32", "strokeWidth": 1.1, "interpolate": "monotone"}},
  {"data": {"name": "a_pls"}, "mark": {"type": "line", "color": "#9370db", "strokeWidth": 1.1, "interpolate": "monotone"}},
  {"data": {"name": "a_pld"}, "mark": {"type": "line", "color": "#9370db", "strokeWidth": 1.1, "strokeDash": [4, 2], "interpolate": "monotone"}},
  {"data": {"name": "a_ol"}, "mark": {"type": "line", "color": "#008000", "strokeWidth": 5, "interpolate": "monotone"}},
  {"data": {"name": "a_pl"}, "mark": {"type": "line", "color": "#800080", "strokeWidth": 5, "interpolate": "monotone"}}
 ]
},
{
 "width": 454, "height": 161.3,
 "title": {"text": "b.", "dx": -28.3, "offset": 1},
 "encoding": {
  "x": {"field": "x", "type": "quantitative", "scale": {"domain": [1064.3, 1313.7], "nice": false, "zero": false},
   "axis": {"title": "Temperature (°C)", "titleX": 227, "titleY": 70, "titleAlign": "center", "titleBaseline": "alphabetic", "values": [1100, 1150, 1200, 1250, 1300], "format": "d"}},
  "y": {"field": "p", "type": "quantitative", "scale": {"domain": [-0.05, 1.05], "nice": false, "zero": false},
   "axis": {"values": [0, 0.5, 1], "labels": false, "title": null}},
  "detail": {"field": "curve"}
 },
 "layer": [
  {"data": {"name": "b_olt"}, "mark": {"type": "line", "color": "#9acd32", "strokeWidth": 1.1, "interpolate": "monotone"}},
  {"data": {"name": "b_pls"}, "mark": {"type": "line", "color": "#9370db", "strokeWidth": 1.1, "interpolate": "monotone"}},
  {"data": {"name": "b_pld"}, "mark": {"type": "line", "color": "#9370db", "strokeWidth": 1.1, "strokeDash": [4, 2], "interpolate": "monotone"}},
  {"data": {"name": "b_ol"}, "mark": {"type": "line", "color": "#008000", "strokeWidth": 5, "interpolate": "monotone"}},
  {"data": {"name": "b_pl"}, "mark": {"type": "line", "color": "#800080", "strokeWidth": 5, "interpolate": "monotone"}}
 ]
},
{
 "width": 460, "height": 161.3,
 "title": {"text": "c.", "dx": -132, "offset": 6},
 "resolve": {"scale": {"x": "shared", "color": "independent", "stroke": "independent"}, "axis": {"x": "independent"}, "legend": {"color": "independent", "stroke": "independent"}},
 "layer": [
  {
   "encoding": {
    "x": {"field": "x", "type": "quantitative", "scale": {"domain": [0.089, 0.2187], "nice": false, "zero": false},
     "axis": {"title": "Fe³⁺/Fe", "titleX": 260, "titleY": 70, "titleAlign": "right", "titleBaseline": "alphabetic", "values": [0.12, 0.16, 0.2], "format": ".2f"}},
    "y": {"field": "p", "type": "quantitative", "scale": {"domain": [-0.05, 1.05], "nice": false, "zero": false},
     "axis": {"values": [0, 0.5, 1], "format": ".1f", "title": "Probability", "titleX": -75.1, "titleY": 80.65, "titleAlign": "center", "titleBaseline": "alphabetic", "titleAngle": -90}},
    "detail": {"field": "curve"}
   },
   "layer": [
    {"data": {"name": "c_olt"}, "mark": {"type": "line", "strokeWidth": 1.1, "interpolate": "monotone"},
     "encoding": {"color": {"datum": "ol", "type": "nominal", "scale": {"domain": ["ol", "pl"], "range": ["#9acd32", "#9370db"]},
      "legend": {"orient": "none", "legendX": 16.8, "legendY": 5, "title": null, "symbolType": "M-2,0H2", "symbolSize": 342, "symbolStrokeWidth": 2.7, "labelFontSize": 17, "labelExpr": "''", "rowPadding": 2, "padding": 0, "labelOffset": 15.5}}}},
    {"data": {"name": "c_ol"}, "mark": {"type": "line", "strokeWidth": 5, "interpolate": "monotone"},
     "encoding": {"stroke": {"datum": "Olivine", "type": "nominal", "scale": {"domain": ["Olivine", "Plag: VO 14"], "range": ["#008000", "#800080"]},
      "legend": {"orient": "none", "legendX": 16.8, "legendY": -3, "title": null, "symbolType": "M-2,0H2", "symbolSize": 342, "symbolStrokeWidth": 3.3, "labelFontSize": 17, "labelColor": "black", "rowPadding": 2, "padding": 0, "labelOffset": 15.5,
       "encode": {"labels": {"update": {"dy": {"value": 3}}}}}}}}
   ]
  },
  {
   "data": {"values": []},
   "mark": "point",
   "encoding": {"x": {"field": "x", "type": "quantitative", "axis": {"orient": "top", "domain": false, "ticks": false, "labels": false, "title": "total", "titleFontSize": 16, "titleX": 261, "titleY": 235.8, "titleAlign": "left", "titleBaseline": "alphabetic"}}}
  }
 ]
},
{
 "width": 454, "height": 161.3,
 "title": {"text": "d.", "dx": -28, "offset": 11},
 "encoding": {
  "x": {"field": "x", "type": "quantitative", "scale": {"domain": [-3.242, 9.402], "nice": false, "zero": false},
   "axis": {"title": "Pressure (kbar)", "titleX": 227, "titleY": 70, "titleAlign": "center", "titleBaseline": "alphabetic", "values": [-2.5, 0, 2.5, 5, 7.5], "format": ".1f"}},
  "y": {"field": "p", "type": "quantitative", "scale": {"domain": [-0.05, 1.05], "nice": false, "zero": false},
   "axis": {"values": [0, 0.5, 1], "labels": false, "title": null}},
  "detail": {"field": "curve"}
 },
 "layer": [
  {"data": {"name": "d_olt"}, "mark": {"type": "line", "color": "#9acd32", "strokeWidth": 1.1, "interpolate": "monotone"}},
  {"data": {"name": "d_ol"}, "mark": {"type": "line", "color": "#008000", "strokeWidth": 5, "interpolate": "monotone"}}
 ]
},
{
 "width": 460, "height": 161.3,
 "title": {"text": "e.", "dx": -132.4, "offset": 16},
 "resolve": {"scale": {"x": "shared"}, "axis": {"x": "independent"}},
 "layer": [
  {
   "encoding": {
    "x": {"field": "x", "type": "quantitative", "scale": {"domain": [-47.8, -18.0], "nice": false, "zero": false},
     "axis": {"title": "A", "titleX": 223.5, "titleY": 67.5, "titleAlign": "right", "titleBaseline": "alphabetic", "values": [-45, -40, -35, -30, -25, -20], "format": "d"}},
    "y": {"field": "p", "type": "quantitative", "scale": {"domain": [-0.05, 1.05], "nice": false, "zero": false},
     "axis": {"values": [0, 0.5, 1], "format": ".1f", "title": "Probability", "titleX": -75.1, "titleY": 80.65, "titleAlign": "center", "titleBaseline": "alphabetic", "titleAngle": -90}},
    "detail": {"field": "curve"}
   },
   "layer": [
    {"data": {"name": "e_pls"}, "mark": {"type": "line", "color": "#9370db", "strokeWidth": 1.1, "interpolate": "monotone"}},
    {"data": {"name": "e_pld"}, "mark": {"type": "line", "color": "#9370db", "strokeWidth": 1.1, "strokeDash": [4, 2], "interpolate": "monotone"}},
    {"data": {"name": "e_pl"}, "mark": {"type": "line", "color": "#800080", "strokeWidth": 5, "interpolate": "monotone"}}
   ]
  },
  {
   "data": {"values": []},
   "mark": "point",
   "encoding": {"x": {"field": "x", "type": "quantitative", "axis": {"orient": "top", "domain": false, "ticks": false, "labels": false, "title": "Mg", "titleFontSize": 15, "titleX": 224.5, "titleY": 233.5, "titleAlign": "left", "titleBaseline": "alphabetic"}}}
  }
 ]
}
]
}
